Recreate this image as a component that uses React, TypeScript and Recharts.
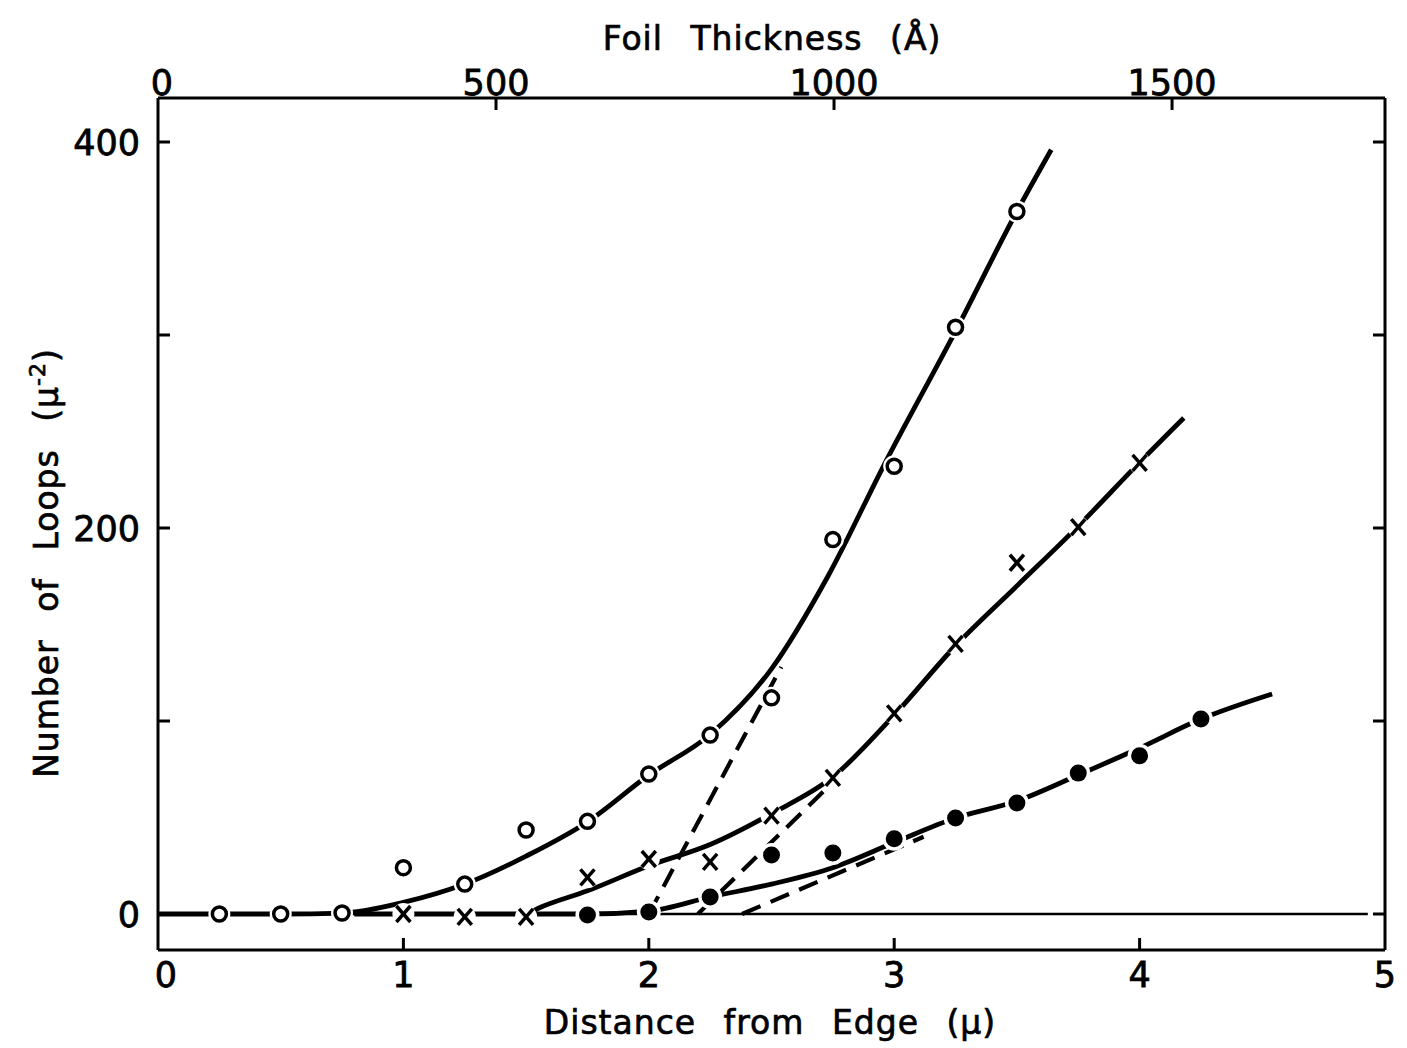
import React from "react";
import {
  ComposedChart,
  Line,
  Scatter,
  XAxis,
  YAxis,
  Label,
} from "recharts";

// measured points (distance in microns, loops per square micron)
const openX = [0.25, 0.5, 0.75, 1.0, 1.25, 1.5, 1.75, 2.0, 2.25, 2.5, 2.75, 3.0, 3.25, 3.5];
const openY = [0, 0, 0.5, 24, 15.5, 43.5, 48, 72.5, 92.7, 112, 194, 232, 304, 364];

const crossX = [1.0, 1.25, 1.5, 1.75, 2.0, 2.25, 2.5, 2.75, 3.0, 3.25, 3.5, 3.75, 4.0];
const crossY = [0, -1.5, -1.5, 19, 28.5, 27, 51, 70.5, 104, 140, 182, 200.5, 233.7];

const filledX = [1.75, 2.0, 2.25, 2.5, 2.75, 3.0, 3.25, 3.5, 3.75, 4.0, 4.25];
const filledY = [-0.5, 1, 8.8, 30.6, 31.6, 39, 49.7, 57.5, 73, 82, 101];

// hand drawn curves through the points
const openCurveX = [0, 0.25, 0.5, 0.75, 1.0, 1.25, 1.5, 1.75, 2.0, 2.25, 2.5, 2.73, 2.96, 3.25, 3.5, 3.64];
const openCurveY = [0, 0, 0, 0.5, 6, 15.5, 30, 47.7, 72, 93, 127, 175, 233, 302, 364, 396];

const crossCurveX = [0.8, 1.0, 1.25, 1.5, 1.55, 1.75, 2.0, 2.25, 2.5, 2.75, 3.0, 3.25, 3.5, 3.75, 4.0, 4.18];
const crossCurveY = [0, 0, 0, 0, 3, 12, 25, 36, 52, 71, 103, 139, 170, 201, 234, 257];

const filledCurveX = [1.5, 1.75, 2.0, 2.25, 2.5, 2.75, 3.0, 3.25, 3.5, 3.75, 4.0, 4.25, 4.54];
const filledCurveY = [0, 0, 1.5, 8.8, 15.5, 24, 37, 49.7, 58.5, 72, 86, 101, 114];

// dashed construction lines
const dashA = { x: [2.0, 2.54], y: [0, 128] };
const dashB = { x: [2.2, 2.78], y: [0, 72] };
const dashC = { x: [2.38, 3.12], y: [0, 40] };

const baseX = [0, 4.93];
const baseY = [0, 0];

// foil thickness scale (Å) across the top
const thickRange = [0, 1815];

const distTicks = [0, 1, 2, 3, 4, 5];
const loopTicks = [0, 100, 200, 300, 400];
const loopLabels = [0, 200, 400];
const thickTicks = [0, 500, 1000, 1500];

const Y_DOMAIN: [number, number] = [-18.65, 422.8];
const FONT = '"DejaVu Sans", sans-serif';

const zip = (xs: number[], ys: number[]) => xs.map((x, i) => ({ x, y: ys[i] }));

function OpenDot({ cx, cy }: any) {
  return (
    <g>
      <circle cx={cx} cy={cy} r={11} fill="#fff" />
      <circle cx={cx} cy={cy} r={7} fill="#fff" stroke="#000" strokeWidth={3.5} />
    </g>
  );
}

function CrossDot({ cx, cy }: any) {
  return (
    <g>
      <circle cx={cx} cy={cy} r={11} fill="#fff" />
      <line x1={cx - 7} y1={cy - 8} x2={cx + 7} y2={cy + 8} stroke="#000" strokeWidth={3.5} />
      <line x1={cx + 7} y1={cy - 8} x2={cx - 7} y2={cy + 8} stroke="#000" strokeWidth={3.5} />
    </g>
  );
}

function FilledDot({ cx, cy }: any) {
  return (
    <g>
      <circle cx={cx} cy={cy} r={12} fill="#fff" />
      <circle cx={cx} cy={cy} r={8.5} fill="#000" />
    </g>
  );
}

const textStyle = {
  fontFamily: FONT,
  fontSize: 35,
  fill: "#000",
  stroke: "#000",
  strokeWidth: 0.8,
};

function BottomTick({ x, y, payload }: any) {
  const v = payload.value;
  return (
    <g>
      {v > 0 && v < 5 && <line x1={x} x2={x} y1={y} y2={y - 12} stroke="#000" strokeWidth={3} />}
      <text x={v === 0 ? x + 8 : x} y={y + 37} textAnchor="middle" style={textStyle}>
        {v}
      </text>
    </g>
  );
}

function TopTick({ x, y, payload }: any) {
  const v = payload.value;
  return (
    <g>
      {v > 0 && <line x1={x} x2={x} y1={y} y2={y + 12} stroke="#000" strokeWidth={3} />}
      <text x={v === 0 ? x + 4 : x} y={y - 3} textAnchor="middle" style={textStyle}>
        {v}
      </text>
    </g>
  );
}

function LeftTick({ x, y, payload }: any) {
  const v = payload.value;
  return (
    <g>
      {v > 0 && <line x1={x} x2={x + 12} y1={y} y2={y} stroke="#000" strokeWidth={3} />}
      {loopLabels.includes(v) && (
        <text x={x - 18} y={y + 13} textAnchor="end" style={textStyle}>
          {v}
        </text>
      )}
    </g>
  );
}

function RightTick({ x, y }: any) {
  return <line x1={x} x2={x - 12} y1={y} y2={y} stroke="#000" strokeWidth={3} />;
}

const titleStyle = {
  fontFamily: FONT,
  fontSize: 33,
  fill: "#000",
  stroke: "#000",
  strokeWidth: 0.7,
  wordSpacing: "16px",
  letterSpacing: "1px",
};

export default function App() {
  const curve = (xs: number[], ys: number[], key: string) => (
    <Line
      key={key}
      data={zip(xs, ys)}
      dataKey="y"
      type="monotone"
      stroke="#000"
      strokeWidth={4.8}
      dot={false}
      activeDot={false}
      isAnimationActive={false}
    />
  );
  const dashed = (d: { x: number[]; y: number[] }, key: string) => (
    <Line
      key={key}
      data={zip(d.x, d.y)}
      dataKey="y"
      type="linear"
      stroke="#000"
      strokeWidth={4.2}
      strokeDasharray="20 11"
      dot={false}
      activeDot={false}
      isAnimationActive={false}
    />
  );

  return (
    <div style={{ position: "absolute", left: 0, top: 0, background: "#fff" }}>
      <ComposedChart
        width={1407}
        height={1048}
        margin={{ top: 58, right: 2, bottom: 38, left: 78 }}
      >
        <XAxis
          dataKey="x"
          type="number"
          domain={[0, 5]}
          ticks={distTicks}
          interval={0}
          allowDataOverflow
          height={60}
          tickSize={0}
          tickMargin={0}
          tickLine={false}
          tick={<BottomTick />}
          axisLine={{ stroke: "#000", strokeWidth: 3 }}
        >
          <Label
            content={() => (
              <text x={770} y={1034} textAnchor="middle" style={titleStyle}>
                Distance from Edge (μ)
              </text>
            )}
          />
        </XAxis>
        <XAxis
          xAxisId="top"
          dataKey="x"
          orientation="top"
          type="number"
          domain={thickRange}
          ticks={thickTicks}
          interval={0}
          allowDataOverflow
          height={40}
          tickSize={0}
          tickMargin={0}
          tickLine={false}
          tick={<TopTick />}
          axisLine={{ stroke: "#000", strokeWidth: 3 }}
        >
          <Label
            content={() => (
              <text x={772} y={50} textAnchor="middle" style={titleStyle}>
                Foil Thickness (Å)
              </text>
            )}
          />
        </XAxis>
        <YAxis
          dataKey="y"
          type="number"
          domain={Y_DOMAIN}
          ticks={loopTicks}
          interval={0}
          allowDataOverflow
          width={80}
          tickSize={0}
          tickMargin={0}
          tickLine={false}
          tick={<LeftTick />}
          axisLine={{ stroke: "#000", strokeWidth: 3 }}
        >
          <Label
            content={() => (
              <text
                x={58}
                y={563}
                textAnchor="middle"
                transform="rotate(-90 58 563)"
                style={titleStyle}
              >
                <tspan>Number of Loops (μ</tspan>
                <tspan dy={-13} fontSize={22}>-2</tspan>
                <tspan dy={13}>)</tspan>
              </text>
            )}
          />
        </YAxis>
        <YAxis
          yAxisId="right"
          orientation="right"
          type="number"
          domain={Y_DOMAIN}
          ticks={loopTicks}
          interval={0}
          allowDataOverflow
          width={20}
          tickSize={0}
          tickMargin={0}
          tickLine={false}
          tick={<RightTick />}
          axisLine={{ stroke: "#000", strokeWidth: 3 }}
        />

        {/* invisible series that carries the thickness scale */}
        <Line
          xAxisId="top"
          data={zip(thickRange, [0, 0])}
          dataKey="y"
          stroke="none"
          dot={false}
          activeDot={false}
          isAnimationActive={false}
        />
        <Line
          data={zip(baseX, baseY)}
          dataKey="y"
          type="linear"
          stroke="#000"
          strokeWidth={2.5}
          dot={false}
          activeDot={false}
          isAnimationActive={false}
        />
        {dashed(dashA, "dashA")}
        {dashed(dashB, "dashB")}
        {dashed(dashC, "dashC")}
        {curve(openCurveX, openCurveY, "openCurve")}
        {curve(crossCurveX, crossCurveY, "crossCurve")}
        {curve(filledCurveX, filledCurveY, "filledCurve")}

        <Scatter data={zip(openX, openY)} shape={<OpenDot />} isAnimationActive={false} />
        <Scatter data={zip(crossX, crossY)} shape={<CrossDot />} isAnimationActive={false} />
        <Scatter data={zip(filledX, filledY)} shape={<FilledDot />} isAnimationActive={false} />
      </ComposedChart>
    </div>
  );
}
